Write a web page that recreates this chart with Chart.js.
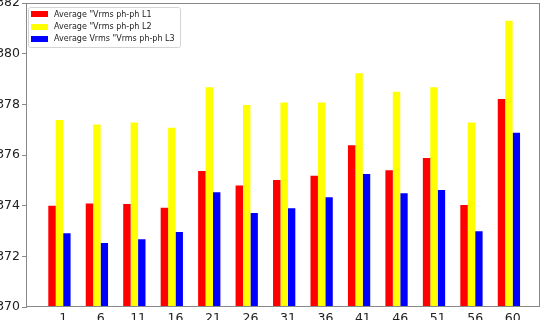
<!DOCTYPE html>
<html>
<head>
<meta charset="utf-8">
<script src="https://cdn.jsdelivr.net/npm/chart.js@4/dist/chart.umd.min.js"></script>
<style>
  html, body { margin: 0; padding: 0; background: #fff; }
  #wrap { width: 544px; height: 320px; position: relative; }
</style>
</head>
<body>
<div id="wrap"><canvas id="vrmsChart"></canvas></div>
<script>
// categories on x
const categories = ['1', '6', '11', '16', '21', '26', '31', '36', '41', '46', '51', '56', '60'];

// series values
const vrmsL1 = [374.0, 374.09, 374.07, 373.92, 375.37, 374.80, 375.01, 375.18, 376.38, 375.40, 375.88, 374.03, 378.21];
const vrmsL2 = [377.38, 377.20, 377.28, 377.08, 378.67, 377.97, 378.07, 378.07, 379.23, 378.50, 378.67, 377.28, 381.30];
const vrmsL3 = [372.91, 372.53, 372.67, 372.96, 374.53, 373.71, 373.90, 374.33, 375.25, 374.49, 374.62, 372.99, 376.88];

const seriesLabels = ['Average "Vrms ph-ph L1', 'Average "Vrms ph-ph L2', 'Average Vrms "Vrms ph-ph L3'];
const seriesColors = ['#ff0000', '#ffff00', '#0000ff'];

const yTicks = [370, 372, 374, 376, 378, 380, 382];

const toPoints = arr => arr.map((y, i) => ({ x: i, y }));

// plot frame + legend drawn inside the plot, top left
const framePlugin = {
  id: 'frame',
  afterDraw(chart) {
    const { ctx, chartArea: a } = chart;
    ctx.save();
    ctx.strokeStyle = '#888';
    ctx.lineWidth = 1;
    ctx.strokeRect(Math.round(a.left) - 0.5, Math.round(a.top) + 0.5,
      Math.round(a.right - a.left), Math.round(a.bottom - a.top) - 1);

    // legend
    const lx = a.left + 1, ly = a.top + 4;
    ctx.fillStyle = 'rgba(255,255,255,0.8)';
    ctx.strokeStyle = '#d4d4d4';
    ctx.beginPath();
    ctx.roundRect(Math.round(lx) + 0.5, Math.round(ly) + 0.5, 152, 40, 2);
    ctx.fill();
    ctx.stroke();

    ctx.font = '8px "DejaVu Sans"';
    ctx.textBaseline = 'middle';
    ctx.textAlign = 'left';
    chart.data.datasets.forEach((ds, i) => {
      const cy = ly + 7.3 + i * 12.3;
      ctx.fillStyle = ds.backgroundColor;
      ctx.fillRect(lx + 3, Math.round(cy - 3), 17, 6);
      ctx.fillStyle = '#222';
      ctx.fillText(ds.label, lx + 26, cy + 0.5);
    });
    ctx.restore();
  }
};

const ctx = document.getElementById('vrmsChart').getContext('2d');
new Chart(ctx, {
  type: 'bar',
  data: {
    datasets: seriesLabels.map((label, i) => ({
      label,
      data: toPoints([vrmsL1, vrmsL2, vrmsL3][i]),
      backgroundColor: seriesColors[i]
    }))
  },
  options: {
    responsive: true,
    maintainAspectRatio: false,
    animation: false,
    datasets: { bar: { barPercentage: 1, categoryPercentage: 0.595 } },
    layout: { padding: { top: 3, right: 4, left: 0, bottom: 0 } },
    plugins: {
      legend: { display: false },
      tooltip: { enabled: false }
    },
    scales: {
      x: {
        type: 'linear',
        offset: false,
        min: -0.866, max: 12.83,
        grid: { display: false, drawTicks: false, tickLength: 0 },
        border: { display: false },
        ticks: {
          padding: 4,
          color: '#222',
          font: { family: 'DejaVu Sans', size: 12.5 },
          autoSkip: false, maxRotation: 0,
          callback: (v, i) => categories[i]
        },
        afterBuildTicks: s => { s.ticks = categories.map((c, i) => ({ value: i + 0.1 })); },
        afterFit: s => { s.height = 13; s.paddingLeft = 0; s.paddingRight = 0; }
      },
      y: {
        min: 370, max: 382,
        grid: { drawOnChartArea: false, drawTicks: true, tickLength: 5, color: '#888' },
        border: { display: false },
        ticks: {
          padding: 2,
          color: '#222',
          font: { family: 'DejaVu Sans', size: 12.5 }
        },
        afterBuildTicks: s => { s.ticks = yTicks.map(v => ({ value: v })); },
        afterFit: s => { s.width = 27; s.paddingTop = 0; s.paddingBottom = 0; }
      }
    }
  },
  plugins: [framePlugin]
});
</script>
</body>
</html>
